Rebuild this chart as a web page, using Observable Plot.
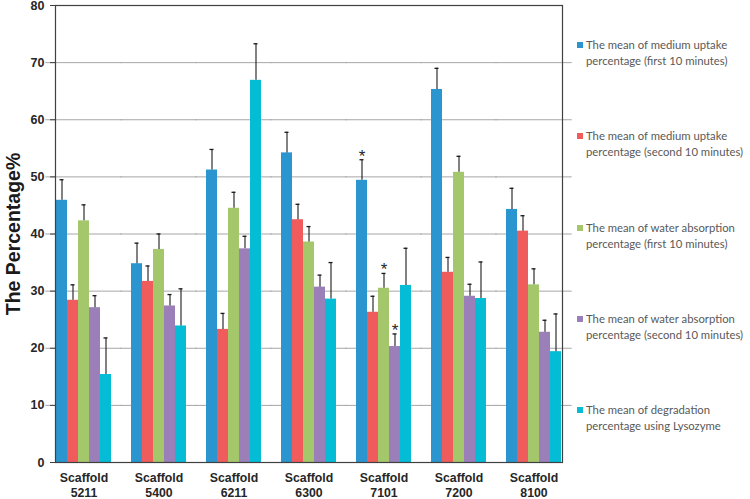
<!DOCTYPE html>
<html><head><meta charset="utf-8">
<script src="https://cdn.jsdelivr.net/npm/d3@7"></script>
<script src="https://cdn.jsdelivr.net/npm/@observablehq/plot@0.6"></script>
<style>
body{margin:0;background:#fff;}
#wrap{position:relative;width:750px;height:499px;}
#legend{position:absolute;left:576px;top:0;font-family:Lato,"Open Sans",sans-serif;font-size:11.3px;color:#595959;}
.item{position:absolute;left:0;width:174px;padding-left:10px;line-height:15.5px;white-space:nowrap;}
.sw{position:absolute;left:1px;top:5px;width:6px;height:6px;}
</style></head><body><div id="wrap"><div id="legend"></div></div>
<script>
const scaffolds = ["5211","5400","6211","6300","7101","7200","8100"];
const seriesNames = [
  ["The mean of medium uptake", "percentage (first 10 minutes)"],
  ["The mean of medium uptake", "percentage (second 10 minutes)"],
  ["The mean of water absorption", "percentage (first 10 minutes)"],
  ["The mean of water absorption", "percentage (second 10 minutes)"],
  ["The mean of degradation", "percentage using  Lysozyme"]
];
const colors = ["#2a95cf", "#f05b5c", "#a3c76a", "#9b7fb8", "#05bcd6"];

// means per series (one value per scaffold)
const mediumFirst  = [45.9, 34.8, 51.2, 54.2, 49.4, 65.3, 44.3];
const mediumSecond = [28.4, 31.7, 23.3, 42.5, 26.3, 33.3, 40.5];
const waterFirst   = [42.3, 37.3, 44.5, 38.6, 30.5, 50.8, 31.1];
const waterSecond  = [27.1, 27.4, 37.4, 30.7, 20.3, 29.1, 22.8];
const degradation  = [15.4, 23.9, 66.9, 28.6, 31.0, 28.7, 19.4];

// error (upper) magnitudes per series
const mediumFirstErr  = [3.6, 3.6, 3.6, 3.6, 3.6, 3.7, 3.7];
const mediumSecondErr = [2.7, 2.7, 2.8, 2.7, 2.8, 2.6, 2.7];
const waterFirstErr   = [2.8, 2.7, 2.8, 2.7, 2.6, 2.8, 2.8];
const waterSecondErr  = [2.1, 2.0, 2.2, 2.1, 2.2, 2.1, 2.1];
const degradationErr  = [6.4, 6.5, 6.4, 6.4, 6.5, 6.4, 6.6];

// significance stars: [scaffold, series index]
const stars = [["7101", 0], ["7101", 2], ["7101", 3]];

const yTicks = [0, 10, 20, 30, 40, 50, 60, 70, 80];
const gridValues = [10, 20, 30, 40, 50, 60, 70];

const meanSets = [mediumFirst, mediumSecond, waterFirst, waterSecond, degradation];
const errSets = [mediumFirstErr, mediumSecondErr, waterFirstErr, waterSecondErr, degradationErr];

const rows = [];
scaffolds.forEach((s, i) => {
  meanSets.forEach((arr, j) => {
    rows.push({
      scaffold: s, series: j, mean: arr[i], top: arr[i] + errSets[j][i],
      star: stars.some(([ss, jj]) => ss === s && jj === j)
    });
  });
});

const padInner = 0.245;
// half of the gap between groups, so each facet's grid meets its neighbours
const gapHalf = ((750 - 45 - 179) / scaffolds.length) * padInner / 2 + 0.5;

const plot = Plot.plot({
  width: 750, height: 499,
  marginLeft: 45, marginRight: 179, marginTop: 5, marginBottom: 37,
  style: {fontFamily: "'Liberation Sans', Arial, sans-serif", background: "white", color: "#262626"},
  fx: {domain: scaffolds, paddingInner: padInner, paddingOuter: padInner / 2, label: null},
  x: {domain: [0, 1, 2, 3, 4], padding: 0, axis: null},
  y: {domain: [0, 80], label: null},
  color: {domain: [0, 1, 2, 3, 4], range: colors},
  marks: [
    Plot.ruleY(gridValues, {y: d => d, stroke: "#a6a6a6", strokeWidth: 1, insetLeft: -gapHalf, insetRight: -gapHalf}),
    Plot.barY(rows, {fx: "scaffold", x: "series", y: "mean", fill: "series"}),
    Plot.ruleX(rows, {fx: "scaffold", x: "series", y1: "mean", y2: "top", stroke: "#1a1a1a", strokeWidth: 1.1}),
    Plot.tickY(rows, {fx: "scaffold", x: "series", y: "top", insetLeft: 3.5, insetRight: 3.5, stroke: "#1a1a1a", strokeWidth: 1.3}),
    Plot.text(rows.filter(d => d.star), {fx: "scaffold", x: "series", y: "top", text: () => "*", dy: 2, lineAnchor: "bottom", fontSize: 17, fill: "#262626"}),
    Plot.frame({facet: "super", stroke: "#404040", strokeWidth: 1.2}),
    Plot.axisY({ticks: yTicks, tickSize: 5, tickPadding: 6, fontWeight: "bold", fontSize: 12.5, label: null, stroke: "#404040"}),
    Plot.text(["The Percentage%"], {facet: "super", frameAnchor: "left", textAnchor: "middle", lineAnchor: "middle", rotate: -90, dx: -42, text: d => d, fontSize: 19.5, fontWeight: "bold", fill: "#1a1a1a"}),
    Plot.axisFx({anchor: "bottom", tickSize: 0, tickPadding: 9, fontWeight: "bold", fontSize: 12.3, lineHeight: 1.22, tickFormat: d => `Scaffold\n${d}`, label: null})
  ]
});
document.getElementById("wrap").prepend(plot);

const legend = document.getElementById("legend");
const tops = [37, 128, 220, 311, 402];
seriesNames.forEach((lines, j) => {
  const it = document.createElement("div");
  it.className = "item";
  it.style.top = tops[j] + "px";
  const sw = document.createElement("div");
  sw.className = "sw";
  sw.style.background = colors[j];
  it.appendChild(sw);
  lines.forEach(l => {
    const ln = document.createElement("div");
    ln.textContent = l;
    it.appendChild(ln);
  });
  legend.appendChild(it);
});
</script>
</body></html>
